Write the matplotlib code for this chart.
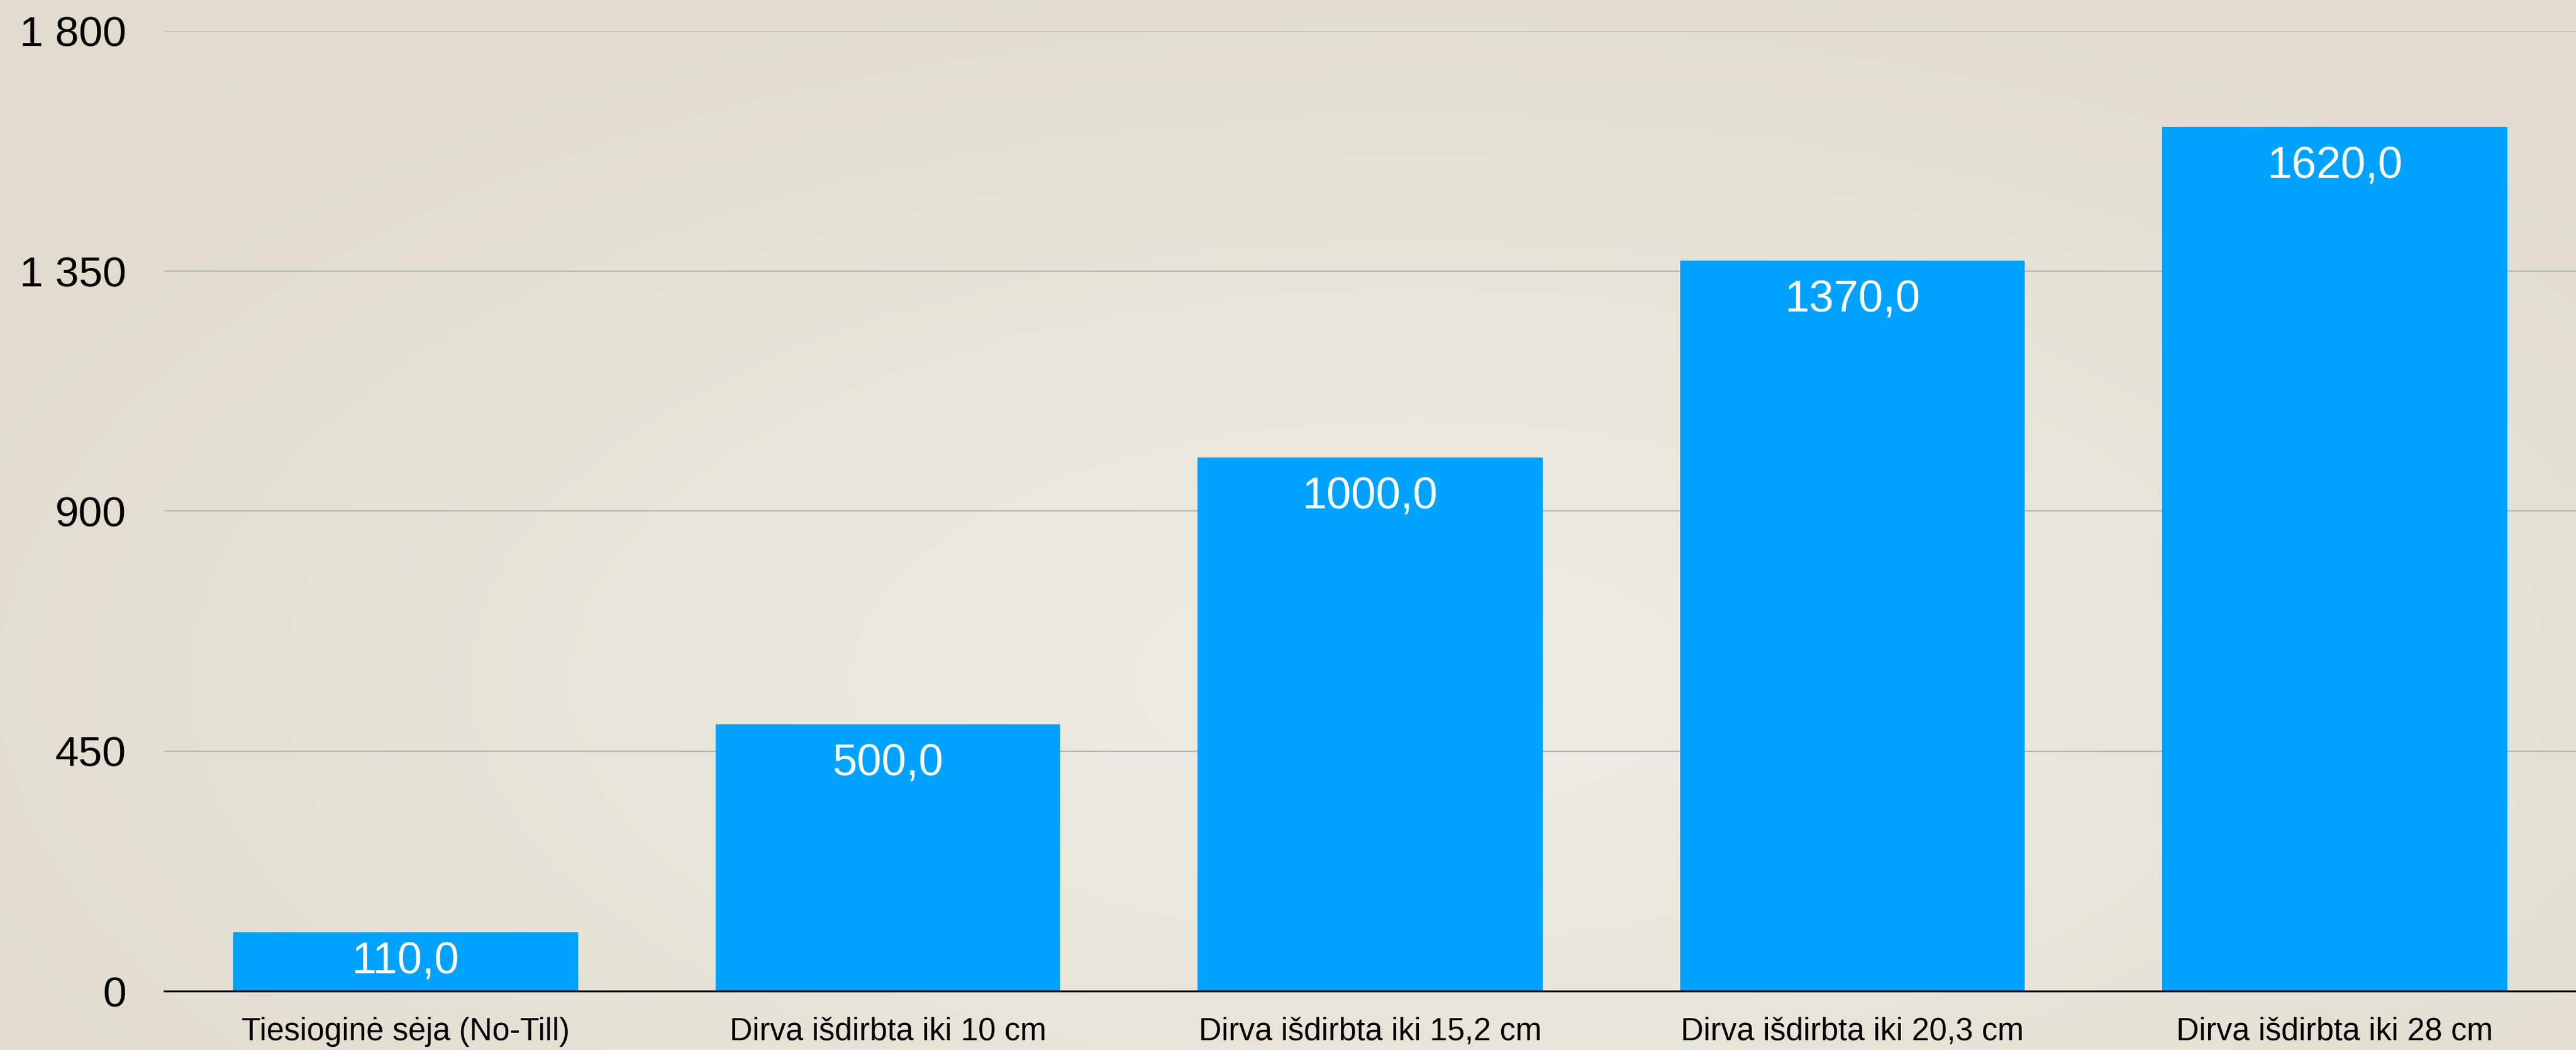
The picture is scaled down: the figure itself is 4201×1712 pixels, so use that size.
import matplotlib
matplotlib.use("Agg")
import matplotlib.pyplot as plt
import matplotlib.ticker as mticker
import numpy as np

# ---------------------------------------------------------------------------
# Data
# ---------------------------------------------------------------------------

categories = [
    "Tiesioginė sėja (No-Till)",
    "Dirva išdirbta iki 10 cm",
    "Dirva išdirbta iki 15,2 cm",
    "Dirva išdirbta iki 20,3 cm",
    "Dirva išdirbta iki 28 cm",
]
values = [110.0, 500.0, 1000.0, 1370.0, 1620.0]
y_ticks = [0, 450, 900, 1350, 1800]

BAR = "#00A2FF"
GRID = "#B4B7BD"

plt.rcParams["font.family"] = ["Liberation Sans", "DejaVu Sans"]

W, H, DPI = 4201, 1712, 100
fig = plt.figure(figsize=(W / DPI, H / DPI), dpi=DPI)

# paper-like background: darker toward the top-left, lighter lower middle
bg = fig.add_axes([0, 0, 1, 1], zorder=-10)
xx = np.linspace(-1, 1, 400)
yy = np.linspace(-1, 1, 160)
gx, gy = np.meshgrid(xx, yy)
d = np.clip(np.sqrt(((gx - 0.1) * 0.8) ** 2 + ((gy + 0.3) * 0.7) ** 2), 0, 1)
light = np.array([0xEF, 0xED, 0xE5]) / 255
dark = np.array([0xE1, 0xDC, 0xCE]) / 255
img = light[None, None, :] * (1 - d[..., None]) + dark[None, None, :] * d[..., None]
bg.imshow(img, aspect="auto", extent=[0, 1, 0, 1], origin="lower",
          interpolation="bicubic")
bg.set_axis_off()

# main axes
left = 268 / W
bottom = (H - 1616) / H
top = (H - 50.7) / H
ax = fig.add_axes([left, bottom, 1 - left, top - bottom])
ax.set_facecolor("none")

x = np.arange(len(categories))
bars = ax.bar(x, values, width=0.715, color=BAR, zorder=3)

for bar, val in zip(bars, values):
    label = f"{val:.1f}".replace(".", ",")
    cx = bar.get_x() + bar.get_width() / 2
    if val < 200:
        # short bar: label sits in the middle of the bar
        ax.text(cx, val / 2, label, ha="center", va="center",
                fontsize=52, color="white", zorder=4)
    else:
        ax.annotate(
            label, xy=(cx, val),
            xytext=(0, -22), textcoords="offset points",
            ha="center", va="top", fontsize=52, color="white", zorder=4,
        )

ax.set_xlim(-0.5, len(categories) - 0.5)
ax.set_ylim(0, 1800)
ax.set_yticks(y_ticks)
ax.yaxis.set_major_formatter(
    mticker.FuncFormatter(lambda v, _: f"{int(v):,}".replace(",", " "))
)
ax.set_xticks(x)
ax.set_xticklabels(categories)

ax.tick_params(axis="y", length=0, pad=45, labelsize=50, labelcolor="black")
ax.tick_params(axis="x", length=0, pad=30, labelsize=37, labelcolor="black")

ax.yaxis.grid(True, color=GRID, linewidth=1.5, zorder=1)
ax.set_axisbelow(True)

for side in ("top", "right", "left"):
    ax.spines[side].set_visible(False)
ax.spines["bottom"].set_color("black")
ax.spines["bottom"].set_linewidth(2.2)
ax.spines["bottom"].set_zorder(5)

fig.savefig("out.png", dpi=DPI)
